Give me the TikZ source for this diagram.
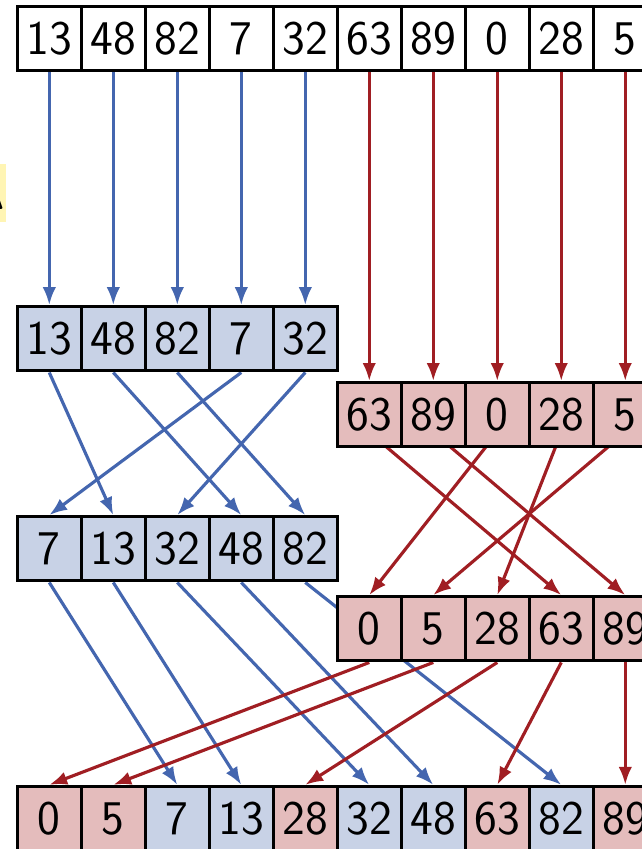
\documentclass[tikz,border=0pt]{standalone}
\usepackage{tikz}
\usetikzlibrary{arrows.meta,backgrounds}
\definecolor{sky}{RGB}{68,102,175}
\definecolor{skyfill}{RGB}{200,210,230}
\definecolor{rust}{RGB}{160,30,35}
\definecolor{rustfill}{RGB}{228,188,188}
\definecolor{hilite}{RGB}{255,245,180}
\tikzset{
  >={Latex[length=2.8mm,width=2.1mm]},
  cell/.style={draw=black,fill=#1,line width=1.5pt,minimum size=1cm,inner sep=0pt,
    font=\fontsize{21.5}{24}\selectfont\sffamily},
  cell/.default=white,
  flow/.style={->,line width=1.4pt,draw=#1},
  flow/.default=sky,
}
\begin{document}
\begin{tikzpicture}
  \useasboundingbox (0,0) rectangle (10.016,-13.266);
  % rows of cells
  \foreach \v [count=\i from 0] in {13,48,82,7,32,63,89,0,28,5}
    \node[cell] (in\i) at (0.77+\i,-0.605) {\v};
  \foreach \v [count=\i from 0] in {13,48,82,7,32}
    \node[cell=skyfill] (lh\i) at (0.77+\i,-5.294) {\v};
  \foreach \v [count=\i from 0] in {63,89,0,28,5}
    \node[cell=rustfill] (rh\i) at (5.77+\i,-6.48) {\v};
  \foreach \v [count=\i from 0] in {7,13,32,48,82}
    \node[cell=skyfill] (ls\i) at (0.77+\i,-8.575) {\v};
  \foreach \v [count=\i from 0] in {0,5,28,63,89}
    \node[cell=rustfill] (rs\i) at (5.77+\i,-9.825) {\v};
  \foreach \v/\c [count=\i from 0] in {0/rustfill,5/rustfill,7/skyfill,13/skyfill,28/rustfill,
      32/skyfill,48/skyfill,63/rustfill,82/skyfill,89/rustfill}
    \node[cell=\c] (out\i) at (0.77+\i,-12.79) {\v};
  \node[fill=hilite,anchor=east,minimum height=0.9cm,inner xsep=0.5pt,
    font=\fontsize{21.5}{24}\selectfont\sffamily\bfseries] (note) at (0.105,-3.016) {A};
  % arrows
  \begin{scope}[on background layer]
    \foreach \i in {0,...,4} {
      \draw[flow] (in\i.south) -- (lh\i.north);
      \pgfmathtruncatemacro\j{\i+5}
      \draw[flow=rust] (in\j.south) -- (rh\i.north);
    }
    \foreach \a/\b in {0/1,1/3,2/4,3/0,4/2}
      \draw[flow] (lh\a.south) -- (ls\b.north);
    \foreach \a/\b in {0/3,1/4,2/0,3/2,4/1}
      \draw[flow=rust] ([yshift=0.25cm]rh\a.south) -- (rs\b.north);
    \foreach \a/\b in {0/2,1/3,2/5,3/6,4/8}
      \draw[flow] (ls\a.south) -- (out\b.north);
    \foreach \a/\b in {0/0,1/1,2/4,3/7,4/9}
      \draw[flow=rust] (rs\a.south) -- (out\b.north);
  \end{scope}
\end{tikzpicture}
\end{document}
